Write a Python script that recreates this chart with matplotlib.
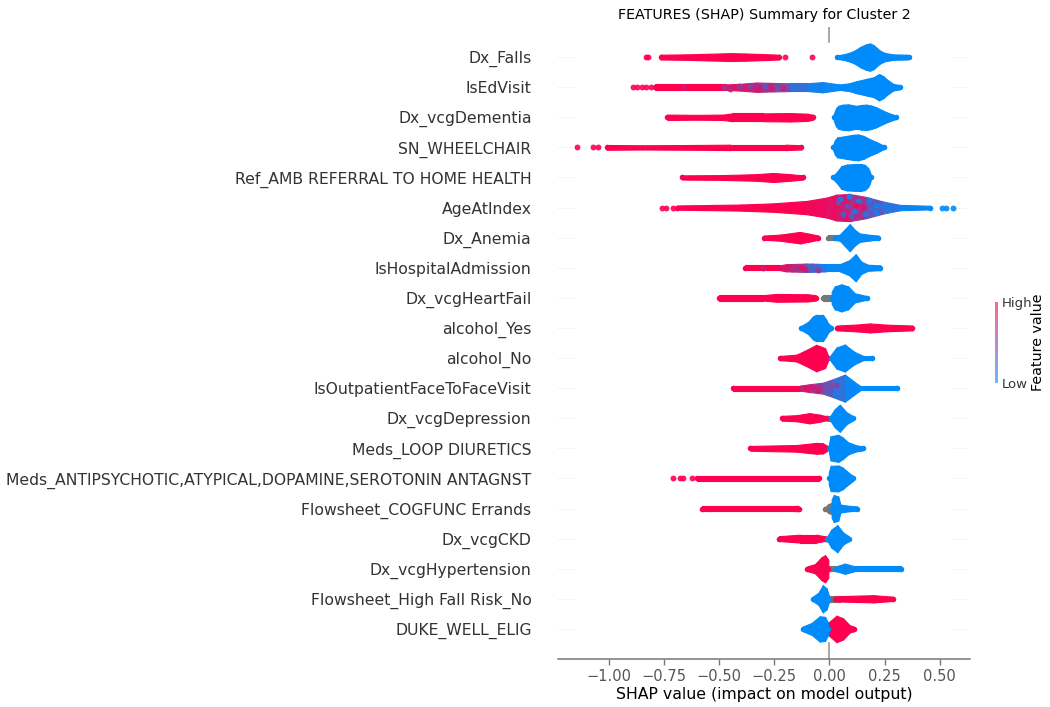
import matplotlib
matplotlib.use("Agg")
import matplotlib.pyplot as plt
from matplotlib.colors import LinearSegmentedColormap
from matplotlib.cm import ScalarMappable

features = ["DUKE_WELL_ELIG", "Flowsheet_High Fall Risk_No", "Dx_vcgHypertension", "Dx_vcgCKD",
            "Flowsheet_COGFUNC Errands", "Meds_ANTIPSYCHOTIC,ATYPICAL,DOPAMINE,SEROTONIN ANTAGNST",
            "Meds_LOOP DIURETICS", "Dx_vcgDepression", "IsOutpatientFaceToFaceVisit", "alcohol_No",
            "alcohol_Yes", "Dx_vcgHeartFail", "IsHospitalAdmission", "Dx_Anemia", "AgeAtIndex",
            "Ref_AMB REFERRAL TO HOME HEALTH", "SN_WHEELCHAIR", "Dx_vcgDementia", "IsEdVisit", "Dx_Falls"]
x_ticks = [-1.0, -0.75, -0.5, -0.25, 0.0, 0.25, 0.5]
x_tick_labels = ["\u22121.00", "\u22120.75", "\u22120.50", "\u22120.25", "0.00", "0.25", "0.50"]

# Each band: (SHAP value, half-spread of the swarm in row units, feature value; None = missing/grey)
falls_high = [(-.765,.08),(-.65,.09),(-.55,.11),(-.45,.13),(-.38,.12),(-.30,.10),(-.228,.08)]
falls_low = [(.036,.06),(.07,.1),(.1,.17),(.122,.25),(.14,.34),(.165,.42),(.183,.455),(.2,.4),(.228,.22),(.25,.14),(.289,.09),(.35,.08),(.361,.06)]
falls_dots = [(-.83,0,1),(-.82,0,1),(-.20,0,1),(-.08,0,1)]

edvisit_mix = [(-.79,.09,1),(-.47,.09,1),(-.41,.11,.85),(-.33,.155,.75),(-.25,.14,.6),(-.18,.13,.3),
               (-.10,.13,.12),(-.03,.17,.05),(.047,.09,0),(.09,.13,0),(.122,.2,0),(.17,.28,0),(.2,.33,0),(.225,.44,0),(.245,.36,0),(.258,.27,0),
               (.289,.11,0),(.319,.07,0)]
edvisit_dots = [(-.89,0,1),(-.87,0,1),(-.85,0,1),(-.83,0,1),(-.81,0,1),(-.66,0,.8),(-.48,.02,.6),
                (-.45,-.05,.7),(-.41,.03,.55),(-.36,.05,.5),(-.32,-.06,.85),(-.29,.04,.35),(-.26,-.04,.8),(-.21,-.03,.8)]

dementia_high = [(-.734,.09),(-.6,.08),(-.48,.09),(-.44,.13),(-.3,.13),(-.18,.14),(-.1,.12),(-.074,.08)]
dementia_low = [(.02,.12),(.03,.3),(.04,.38),(.06,.42),(.085,.43),(.122,.38),(.145,.41),(.168,.42),(.19,.39),(.213,.33),(.258,.17),(.30,.06)]

wheelchair_high = [(-1.01,.08),(-.85,.07),(-.6,.08),(-.45,.09),(-.2,.09),(-.127,.07)]
wheelchair_low = [(.017,.09),(.025,.24),(.035,.33),(.077,.38),(.11,.42),(.13,.43),(.155,.38),(.175,.3),(.213,.18),(.248,.05)]
wheelchair_dots = [(-1.145,0,1),(-1.07,0,1),(-1.05,0,1)]

ref_high = [(-.666,.07),(-.48,.08),(-.33,.11),(-.255,.15),(-.18,.11),(-.12,.07)]
ref_low = [(.017,.06),(.036,.2),(.054,.38),(.08,.43),(.107,.44),(.14,.45),(.16,.42),(.175,.32),(.183,.2),(.187,.1)]

age_mix = [(-.69,.07,1),(-.406,.1,1),(-.255,.14,1),(-.104,.22,.98),(-.014,.33,.9),(.032,.43,.85),(.092,.45,.78),
           (.168,.35,.55),(.243,.2,.25),(.319,.09,.08),(.455,.06,0)]
age_dots = [(-.76,0,1),(-.74,0,1),(-.71,0,1),(.51,0,0),(.53,0,0),(.56,0,0),
            (.05,.3,.1),(.09,.38,.05),(.13,.22,.1),(.18,.25,.1),(.21,.1,.05),(.06,-.2,.3),(.11,-.1,.2),
            (.16,-.2,.15),(.21,-.15,.1),(.23,.05,.15),(.03,.1,.95),(.08,-.35,.95),(.12,.1,.95),(.02,-.25,.95),
            (.15,.02,.9),(.08,.05,.4),(.1,-.28,.35),(.04,.2,.4),(.19,-.03,.25)]

anemia_high = [(-.298,.07),(-.225,.1),(-.134,.19),(-.09,.13),(-.05,.07)]
anemia_grey = [(-.005,.09),(.04,.09)]
anemia_low = [(.025,.07),(.047,.1),(.07,.28),(.092,.45),(.115,.26),(.137,.14),(.2,.08),(.222,.07)]

hospital_mix = [(-.382,.08,1),(-.225,.08,1),(-.195,.12,.75),(-.14,.13,.7),(-.104,.14,.35),(-.05,.13,.22),(-.014,.12,.05),
                (.047,.12,0),(.09,.25,0),(.119,.45,0),(.145,.2,0),(.175,.1,0),(.231,.08,0)]
hospital_dots = [(-.3,0,.8),(-.19,.04,.9),(-.17,-.05,.7),(-.13,.03,.95),(-.11,-.04,.9),(-.08,.05,.3),(-.05,-.06,.6)]

heartfail_high = [(-.5,.09),(-.3,.09),(-.24,.13),(-.1,.12),(-.062,.09)]
heartfail_grey = [(-.03,.1),(.016,.1)]
heartfail_low = [(.01,.2),(.024,.38),(.054,.45),(.085,.38),(.115,.15),(.17,.06)]

alcyes_low = [(-.13,.06),(-.097,.2),(-.075,.38),(-.06,.44),(-.03,.44),(-.015,.28),(-.006,.15),(.006,.08)]
alcyes_high = [(.035,.08),(.137,.12),(.183,.15),(.258,.11),(.376,.08)]

alcno_high = [(-.224,.07),(-.15,.11),(-.104,.27),(-.06,.44),(-.02,.33),(-.006,.08)]
alcno_low = [(.006,.1),(.032,.35),(.07,.45),(.09,.33),(.115,.2),(.153,.07),(.195,.06)]

outpatient_mix = [(-.437,.08,1),(-.134,.08,1),(-.09,.13,.7),(-.03,.18,.55),(.017,.3,.3),(.07,.45,.08),(.115,.2,0),(.14,.07,0),(.304,.07,0)]
outpatient_dots = [(-.08,.03,.85),(-.05,-.07,.8),(-.02,.08,.4),(-.01,-.12,.35),(.02,-.2,.15),(.03,.1,.5),(-.13,.02,.75)]

depression_high = [(-.216,.08),(-.15,.1),(-.09,.17),(-.045,.12),(-.017,.07)]
depression_grey = [(-.01,.08),(.02,.08)]
depression_low = [(.006,.1),(.024,.3),(.047,.45),(.077,.2),(.107,.07)]

loop_high = [(-.358,.08),(-.15,.11),(-.06,.18),(-.03,.17),(-.01,.08)]
loop_low = [(-.003,.1),(.005,.4),(.04,.45),(.06,.36),(.085,.2),(.122,.1),(.15,.07)]

antipsych_high = [(-.598,.08),(-.047,.08)]
antipsych_low = [(-.003,.2),(.006,.42),(.04,.43),(.06,.36),(.077,.25),(.107,.08)]
antipsych_dots = [(-.708,0,1),(-.678,0,1),(-.662,0,1),(-.625,0,1)]

cogfunc_high = [(-.578,.09),(-.542,.09),(-.538,.08),(-.18,.08),(-.14,.09)]
cogfunc_grey = [(-.02,.04),(-.005,.15),(.015,.2),(.03,.1)]
cogfunc_low = [(.01,.3),(.02,.45),(.04,.4),(.05,.13),(.09,.09),(.125,.07)]

ckd_high = [(-.23,.08),(-.134,.13),(-.06,.13),(-.014,.07)]
ckd_grey = [(-.015,.07),(0,.07)]
ckd_low = [(-.01,.07),(.009,.3),(.036,.45),(.062,.2),(.088,.08)]

hyper_high = [(-.1,.08),(-.066,.15),(-.036,.38),(-.02,.45),(-.005,.3)]
hyper_grey = [(0,.09),(.032,.09)]
hyper_low = [(.03,.08),(.07,.17),(.115,.08),(.326,.08)]

highfall_low = [(-.074,.08),(-.05,.2),(-.03,.45),(-.013,.35),(-.002,.1)]
highfall_grey = [(0,.1),(.047,.1)]
highfall_high = [(.024,.07),(.047,.09),(.2,.12),(.289,.07)]

duke_low = [(-.12,.08),(-.08,.2),(-.044,.42),(-.02,.4),(-.006,.2)]
duke_high = [(-.006,.2),(.032,.44),(.062,.35),(.092,.12),(.11,.08)]

BLUE, RED, GREY = "#008bfb", "#ff0051", "#777777"
cmap = LinearSegmentedColormap.from_list("red_blue", [BLUE, RED])
pale_cmap = LinearSegmentedColormap.from_list("red_blue_pale", ["#66b9fd", "#b98ad0", "#ff6697"])

rows = {
    19: dict(high=falls_high, low=falls_low, dots=falls_dots),
    18: dict(mix=edvisit_mix, dots=edvisit_dots),
    17: dict(high=dementia_high, low=dementia_low),
    16: dict(high=wheelchair_high, low=wheelchair_low, dots=wheelchair_dots),
    15: dict(high=ref_high, low=ref_low),
    14: dict(mix=age_mix, dots=age_dots),
    13: dict(grey=anemia_grey, high=anemia_high, low=anemia_low),
    12: dict(mix=hospital_mix, dots=hospital_dots),
    11: dict(grey=heartfail_grey, high=heartfail_high, low=heartfail_low),
    10: dict(high=alcyes_high, low=alcyes_low),
    9: dict(high=alcno_high, low=alcno_low),
    8: dict(mix=outpatient_mix, dots=outpatient_dots),
    7: dict(grey=depression_grey, high=depression_high, low=depression_low),
    6: dict(high=loop_high, low=loop_low),
    5: dict(high=antipsych_high, low=antipsych_low, dots=antipsych_dots),
    4: dict(grey=cogfunc_grey, high=cogfunc_high, low=cogfunc_low),
    3: dict(grey=ckd_grey, high=ckd_high, low=ckd_low),
    2: dict(grey=hyper_grey, high=hyper_high, low=hyper_low),
    1: dict(grey=highfall_grey, high=highfall_high, low=highfall_low),
    0: dict(high=duke_high, low=duke_low),
}

W, H = 1050, 707
fig = plt.figure(figsize=(W / 100, H / 100), dpi=100)
ax = fig.add_axes([558 / W, (H - 659) / H, (970 - 558) / W, 632 / H])


def band(y, stations, z):
    """Swarm silhouette between stations; each stretch takes its stations' colour."""
    for a, b in zip(stations, stations[1:]):
        x = [a[0], b[0]]
        lo = [y - a[1], y - b[1]]
        hi = [y + a[1], y + b[1]]
        colour = a[2] if isinstance(a[2], str) else cmap((a[2] + b[2]) / 2)
        ax.fill_between(x, lo, hi, color=colour, lw=0.8, zorder=z)
    for s in (stations[0], stations[-1]):
        colour = s[2] if isinstance(s[2], str) else cmap(float(s[2]))
        ax.scatter([s[0]], [y], s=16, color=colour, lw=0, zorder=z)


for y, row in rows.items():
    if "grey" in row:
        band(y, [(p[0], p[1], GREY) for p in row["grey"]], 3)
    if "high" in row:
        band(y, [(p[0], p[1], RED) for p in row["high"]], 4)
    if "low" in row:
        band(y, [(p[0], p[1], BLUE) for p in row["low"]], 4)
    if "mix" in row:
        band(y, row["mix"], 4)
    for x, off, v in row.get("dots", []):
        ax.scatter([x], [y + off], s=18, color=cmap(float(v)), lw=0, alpha=0.9, zorder=5)
    for span in ((-1.23, -1.15), (0.56, 0.637)):
        ax.plot(span, [y, y], color="#cccccc", lw=0.5, ls=(0, (1, 3)), zorder=1)

ax.plot([0, 0], [19.5, 20], color="#999999", lw=1.2, zorder=1)
ax.plot([0, 0], [-1, -.47], color="#999999", lw=1.2, zorder=1)

ax.set_xlim(-1.23, 0.637)
ax.set_ylim(-1, 20)
ax.set_yticks(range(len(features)))
ax.set_yticklabels(features, fontsize=11.25, color="#333333")
ax.tick_params(axis="y", length=0, pad=19)
ax.set_xticks(x_ticks)
ax.set_xticklabels(x_tick_labels, fontsize=10.5, color="#555555")
ax.tick_params(axis="x", color="#777777", length=4, width=1, pad=3)
for side in ("top", "left", "right"):
    ax.spines[side].set_visible(False)
ax.spines["bottom"].set_color("#777777")
ax.spines["bottom"].set_linewidth(1.1)
ax.set_xlabel("SHAP value (impact on model output)", fontsize=11.3, labelpad=2)
ax.set_title("FEATURES (SHAP) Summary for Cluster 2", fontsize=10.3, pad=6)

cax = fig.add_axes([995 / W, (H - 383) / H, 2.6 / W, 81 / H])
cb = fig.colorbar(ScalarMappable(cmap=pale_cmap), cax=cax)
cb.set_ticks([0, 1], labels=["Low", "High"], fontsize=9.5, color="#333333")
cax.tick_params(length=0, pad=3)
cb.outline.set_visible(False)
cb.set_label("Feature value", fontsize=10.3, labelpad=-1)

fig.savefig("out.png", dpi=100, facecolor="white")
